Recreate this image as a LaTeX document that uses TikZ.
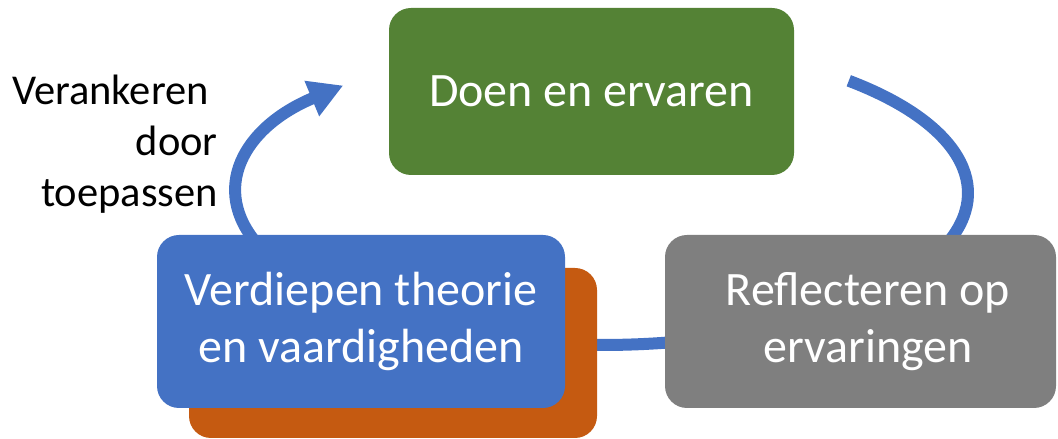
\documentclass[tikz,border=0pt]{standalone}
\usepackage{fontspec}
\setmainfont{Carlito}
\usetikzlibrary{arrows.meta, calc}
\definecolor{doenGreen}{HTML}{548235}
\definecolor{reflectGray}{HTML}{7F7F7F}
\definecolor{deepBlue}{HTML}{4472C4}
\definecolor{anchorOrange}{HTML}{C55A11}
\definecolor{cycleBlue}{HTML}{4472C4}
\tikzstyle{box}=[rounded corners=22pt, inner sep=0pt, text=white, align=center,
  font=\fontsize{48}{57}\selectfont]
\tikzstyle{cycle}=[line width=12pt, draw=cycleBlue]
\tikzstyle{cycleArrow}=[cycle, -{Triangle[length=34pt, width=36pt]}]

\begin{document}
\begin{tikzpicture}[x=1pt, y=1pt]
      \useasboundingbox (0,0) rectangle (1058,439);
      \clip (0,0) rectangle (1058,439);

      \coordinate (C) at (602,246);

      % the cycle, boxes go on top
      \draw[cycle] (C) ++(47.6:366 and 152) coordinate (fromDoen)
        arc[start angle=47.6, end angle=-20, x radius=366, y radius=152];
      \draw[cycle] (C) ++(290:366 and 152) coordinate (fromReflect)
        arc[start angle=290, end angle=240, x radius=366, y radius=152];
      \draw[cycleArrow] (C) ++(200:366 and 152) coordinate (fromDeepen)
        arc[start angle=200, end angle=135, x radius=366, y radius=152];

      \node[box, fill=anchorOrange, minimum width=408pt, minimum height=170pt]
        (shadow) at (393,86) {};
      \node[box, fill=deepBlue, minimum width=408pt, minimum height=173pt]
        (deepen) at (361,117.5) {Verdiepen theorie\\en vaardigheden};
      \node[box, fill=doenGreen, minimum width=405pt, minimum height=167pt]
        (doen) at (591.5,347.5) {Doen en ervaren};
      \node[box, fill=reflectGray, minimum width=391pt, minimum height=173pt]
        (reflect) at (860.5,117.5) {\hspace*{15pt}Reflecteren op\\\hspace*{15pt}ervaringen};

      \node[anchor=east, inner sep=0pt, align=right,
        font=\fontsize{42.5}{51}\selectfont] (anchorText) at (218,295)
        {Verankeren\hspace*{9pt}\\door\hspace*{9pt}\\toepassen};
    \end{tikzpicture}
\end{document}
